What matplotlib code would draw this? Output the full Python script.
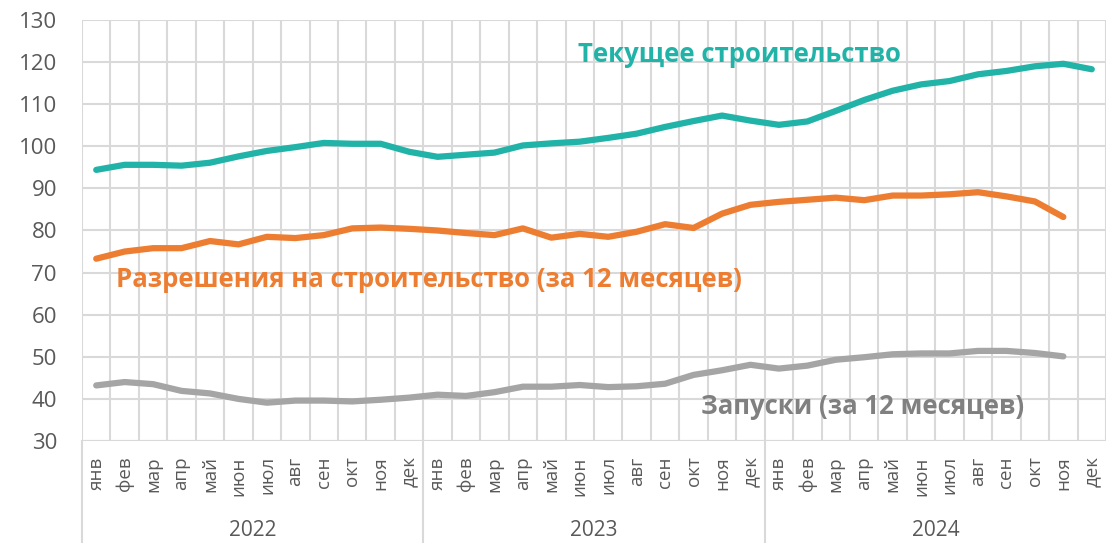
import numpy as np
import matplotlib.pyplot as plt
import matplotlib.transforms as mtransforms

plt.rcParams['font.family'] = ['Open Sans', 'DejaVu Sans']

months = ['янв', 'фев', 'мар', 'апр', 'май', 'июн',
          'июл', 'авг', 'сен', 'окт', 'ноя', 'дек']
years = ['2022', '2023', '2024']

# текущее строительство
current = [94.4, 95.6, 95.6, 95.4, 96.1, 97.6, 98.9, 99.8, 100.8, 100.6, 100.6, 98.7,
           97.5, 98.0, 98.5, 100.2, 100.7, 101.1, 102.0, 103.0, 104.6, 106.0, 107.3, 106.1,
           105.1, 105.9, 108.4, 111.0, 113.2, 114.7, 115.5, 117.1, 117.9, 119.0, 119.6, 118.3]
# разрешения на строительство (за 12 месяцев)
permits = [73.3, 75.0, 75.8, 75.8, 77.5, 76.7, 78.5, 78.2, 78.9, 80.5, 80.7, 80.4,
           80.0, 79.4, 78.9, 80.5, 78.3, 79.2, 78.5, 79.7, 81.5, 80.6, 84.0, 86.1,
           86.8, 87.3, 87.8, 87.2, 88.3, 88.3, 88.6, 89.1, 88.1, 86.9, 83.2]
# запуски (за 12 месяцев)
starts = [43.2, 44.0, 43.5, 41.9, 41.3, 40.0, 39.1, 39.6, 39.6, 39.4, 39.8, 40.3,
          41.0, 40.7, 41.6, 42.9, 42.9, 43.3, 42.8, 43.0, 43.6, 45.7, 46.8, 48.1,
          47.2, 47.9, 49.3, 49.9, 50.6, 50.8, 50.8, 51.4, 51.4, 50.9, 50.1]

teal = '#22B3A8'
orange = '#ED7D31'
gray = '#A5A5A5'
grid_c = '#D9D9D9'
text_c = '#595959'

fig = plt.figure(figsize=(11.07, 5.43), dpi=100)
ax = fig.add_axes([82 / 1107, 1 - 441 / 543, 1024 / 1107, 421 / 543])

labels = months * len(years)
n = len(labels)
ax.plot(np.arange(len(current)), current, color=teal, lw=4.5, solid_capstyle='round', zorder=3)
ax.plot(np.arange(len(permits)), permits, color=orange, lw=4.5, solid_capstyle='round', zorder=3)
ax.plot(np.arange(len(starts)), starts, color=gray, lw=4.5, solid_capstyle='round', zorder=3)

ax.set_xlim(-0.5, n - 0.5)
ax.set_ylim(30, 130)
ax.set_yticks(np.arange(30, 131, 10))
ax.set_xticks(np.arange(n))
ax.set_xticklabels(labels, rotation=90, fontsize=13.5, color=text_c)
ax.set_xticks(np.arange(-0.5, n, 1), minor=True)
ax.tick_params(axis='x', which='both', length=0, pad=11)
ax.tick_params(axis='y', length=0, labelsize=16, colors=text_c, pad=18)
ax.grid(axis='y', color=grid_c, lw=1.5, zorder=0)
ax.grid(axis='x', which='minor', color=grid_c, lw=1.5, zorder=0)
for s in ax.spines.values():
    s.set_visible(False)
ax.axhline(30, color=grid_c, lw=1.5, zorder=1)

# year group labels and separators under the axis
tr = mtransforms.blended_transform_factory(ax.transData, ax.transAxes)
bottom = -102 / 421
for i, yr in enumerate(years):
    ax.plot([i * 12 - 0.5, i * 12 - 0.5], [0, bottom], transform=tr, color=grid_c,
            lw=1.5, clip_on=False)
    ax.text(i * 12 + 5.5, -90 / 421, yr, transform=tr, ha='center', va='center',
            fontsize=15, color=text_c)

ax.text(16.95, 121.8, 'Текущее строительство', color=teal, fontsize=18.5,
        fontweight='bold', ha='left', va='center')
ax.text(0.7, 68.3, 'Разрешения на строительство (за 12 месяцев)', color=orange,
        fontsize=18.5, fontweight='bold', ha='left', va='center')
ax.text(21.25, 38.2, 'Запуски (за 12 месяцев)', color='#808080', fontsize=18.5,
        fontweight='bold', ha='left', va='center')

fig.savefig('out.png', dpi=100)
